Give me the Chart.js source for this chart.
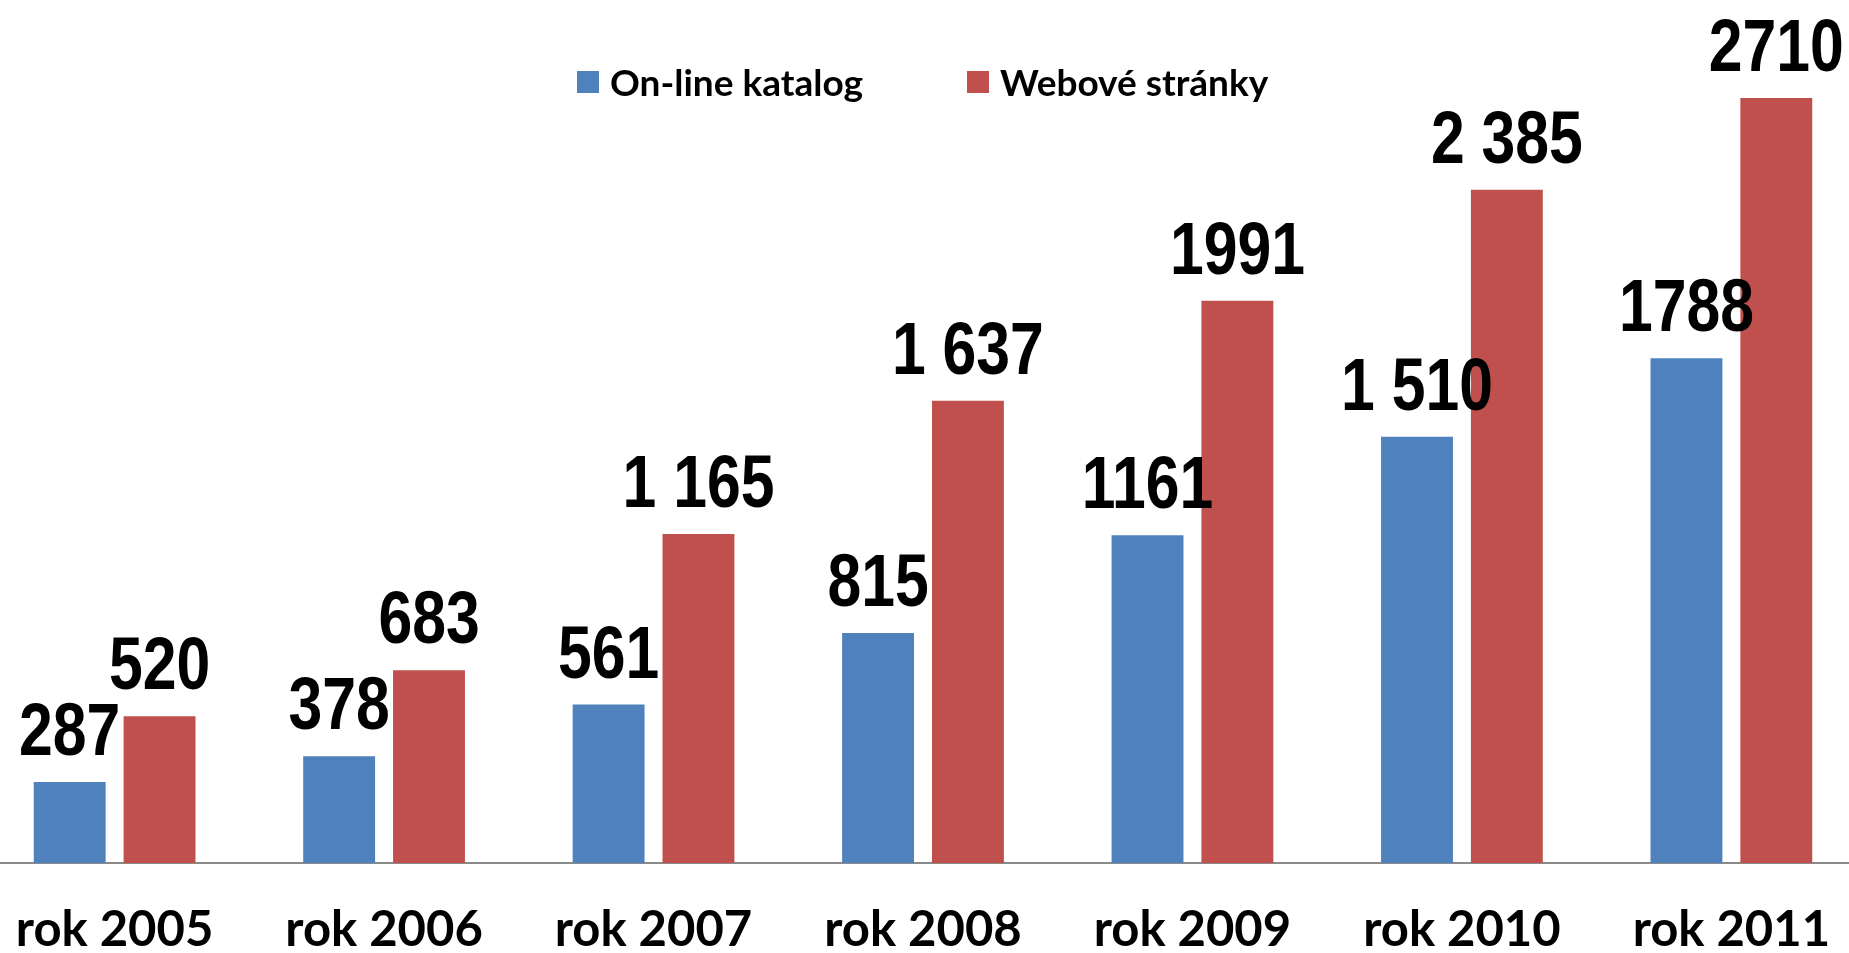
<!DOCTYPE html>
<html lang="cs">
<head>
    <meta charset="UTF-8">
    <title>On-line katalog a webové stránky</title>
    <script src="https://cdn.jsdelivr.net/npm/chart.js"></script>
    <style>
        body {
            margin: 0;
            background: #ffffff;
            overflow: hidden;
            width: 1849px;
            height: 953px;
            position: relative;
        }
        .chart-box {
            position: absolute;
            left: -22px;
            top: 0;
            width: 1890px;
            height: 953px;
        }
        .legend {
            position: absolute;
            top: 63px;
            font-family: Lato, "Open Sans", sans-serif;
            font-weight: bold;
            font-size: 37px;
            color: #000;
            display: flex;
            align-items: center;
            line-height: 38px;
        }
        .legend span.box {
            display: inline-block;
            width: 22px;
            height: 22px;
            margin-right: 11px;
        }
    </style>
</head>
<body>
    <div class="chart-box">
        <canvas id="grafNavstev"></canvas>
    </div>
    <div class="legend" style="left: 577px;"><span class="box" style="background:#4F81BD"></span>On-line katalog</div>
    <div class="legend" style="left: 967px;"><span class="box" style="background:#C0504D"></span>Webové stránky</div>

    <script>
        // data z grafu
        const roky = ['rok 2005', 'rok 2006', 'rok 2007', 'rok 2008', 'rok 2009', 'rok 2010', 'rok 2011'];
        const katalog = [287, 378, 561, 815, 1161, 1510, 1788];
        const stranky = [520, 683, 1165, 1637, 1991, 2385, 2710];
        const katalogPopisky = ['287', '378', '561', '815', '1161', '1 510', '1788'];
        const strankyPopisky = ['520', '683', '1 165', '1 637', '1991', '2 385', '2710'];

        // popisky hodnot nad sloupci (uzky tucny font)
        const popiskyPlugin = {
            id: 'popisky',
            afterDatasetsDraw(chart) {
                const ctx = chart.ctx;
                const popisky = [katalogPopisky, strankyPopisky];
                ctx.save();
                ctx.fillStyle = '#000';
                ctx.font = 'bold 74px "Liberation Sans", Arial, sans-serif';
                ctx.textAlign = 'center';
                ctx.textBaseline = 'alphabetic';
                chart.data.datasets.forEach((ds, i) => {
                    chart.getDatasetMeta(i).data.forEach((bar, j) => {
                        ctx.save();
                        ctx.translate(bar.x, bar.y - 27);
                        ctx.scale(0.82, 1);
                        ctx.fillText(popisky[i][j], 0, 0);
                        ctx.restore();
                    });
                });
                ctx.restore();
            }
        };

        const ctx = document.getElementById('grafNavstev').getContext('2d');
        new Chart(ctx, {
            type: 'bar',
            data: {
                labels: roky,
                datasets: [
                    { label: 'On-line katalog', data: katalog, backgroundColor: '#4F81BD' },
                    { label: 'Webové stránky', data: stranky, backgroundColor: '#C0504D' }
                ]
            },
            options: {
                responsive: true,
                maintainAspectRatio: false,
                animation: false,
                categoryPercentage: 0.667,
                barPercentage: 0.8,
                layout: { padding: { top: 16, left: 0, right: 0, bottom: 0 } },
                plugins: {
                    legend: { display: false },
                    tooltip: { enabled: false }
                },
                scales: {
                    x: {
                        grid: { display: false, drawTicks: false },
                        border: { display: true, color: '#8a8a8a', width: 2 },
                        ticks: {
                            color: '#000',
                            padding: 38,
                            font: { family: 'Lato', weight: 'bold', size: 49 }
                        },
                        afterFit(scale) { scale.height = 90; }
                    },
                    y: {
                        display: false,
                        min: 0,
                        max: 3000
                    }
                }
            },
            plugins: [popiskyPlugin]
        });
    </script>
</body>
</html>
